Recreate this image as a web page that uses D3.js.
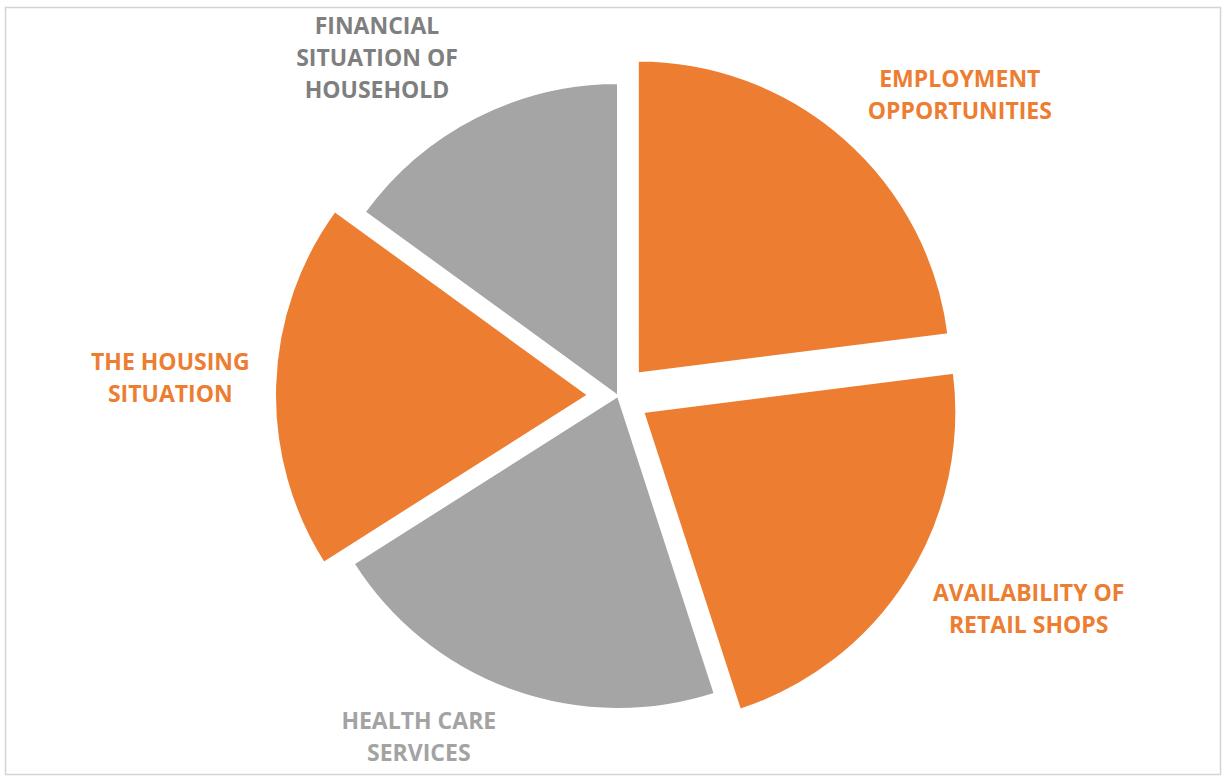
<!DOCTYPE html>
<html>
<head>
<meta charset="utf-8">
<script src="https://cdn.jsdelivr.net/npm/d3@7"></script>
<style>
  html, body { margin: 0; padding: 0; background: #ffffff; }
  svg { display: block; }
</style>
</head>
<body>
<svg id="chart" width="1227" height="782"></svg>
<script>
// Factors named by residents, share of responses (%)
const categories = [
  "Employment opportunities",
  "Availability of retail shops",
  "Health care services",
  "The housing situation",
  "Financial situation of household"
];
const shares = [23, 22, 21, 19, 15];
const labelLines = [
  ["EMPLOYMENT", "OPPORTUNITIES"],
  ["AVAILABILITY OF", "RETAIL SHOPS"],
  ["HEALTH CARE", "SERVICES"],
  ["THE HOUSING", "SITUATION"],
  ["FINANCIAL", "SITUATION OF", "HOUSEHOLD"]
];
const highlighted = [true, true, false, true, false];

// Layout
const W = 1227, H = 782;
const cx = 618, cy = 396;
const radius = 313;
const explode = 30;
const lineHeight = 32;
// label anchor in polar form around the pie centre: [degrees clockwise from 12 o'clock, distance]
const labelPolar = [[48.7, 455], [117.5, 463], [210.2, 396], [272.2, 448], [324.4, 414]];

const orange = "#ED7D31";
const grey = "#A5A5A5";
const labelColours = ["#ED7D31", "#ED7D31", "#A3A3A3", "#ED7D31", "#7F7F7F"];

const svg = d3.select("#chart");

// chart frame
svg.append("rect")
  .attr("x", 5.5).attr("y", 7.5)
  .attr("width", W - 12).attr("height", H - 15)
  .attr("fill", "#ffffff")
  .attr("stroke", "#d4d4d4")
  .attr("stroke-width", 1.5);

const pie = d3.pie().sort(null).value(d => d);
const arcs = pie(shares);
const arc = d3.arc().innerRadius(0).outerRadius(radius);

const g = svg.append("g").attr("transform", `translate(${cx},${cy})`);

g.selectAll("path.slice")
  .data(arcs)
  .join("path")
  .attr("class", "slice")
  .attr("d", arc)
  .attr("fill", (d, i) => highlighted[i] ? orange : grey)
  .attr("stroke", "#ffffff")
  .attr("stroke-width", 2)
  .attr("transform", (d, i) => {
    if (!highlighted[i]) return null;
    const a = (d.startAngle + d.endAngle) / 2;
    return `translate(${explode * Math.sin(a)},${-explode * Math.cos(a)})`;
  });

// labels
g.selectAll("text.label")
  .data(arcs)
  .join("text")
  .attr("class", "label")
  .attr("text-anchor", "middle")
  .attr("font-family", "'Open Sans', 'Noto Sans', sans-serif")
  .attr("font-weight", 700)
  .attr("font-size", 23)
  .attr("fill", (d, i) => labelColours[i])
  .each(function (d, i) {
    const [deg, dist] = labelPolar[i];
    const a = deg * Math.PI / 180;
    const x = dist * Math.sin(a);
    const y = -dist * Math.cos(a) - 1;
    const lines = labelLines[i];
    d3.select(this).selectAll("tspan")
      .data(lines)
      .join("tspan")
      .attr("x", x)
      .attr("y", (t, k) => y + (k - (lines.length - 1) / 2) * lineHeight)
      .attr("dy", "0.35em")
      .text(t => t);
  });
</script>
</body>
</html>
